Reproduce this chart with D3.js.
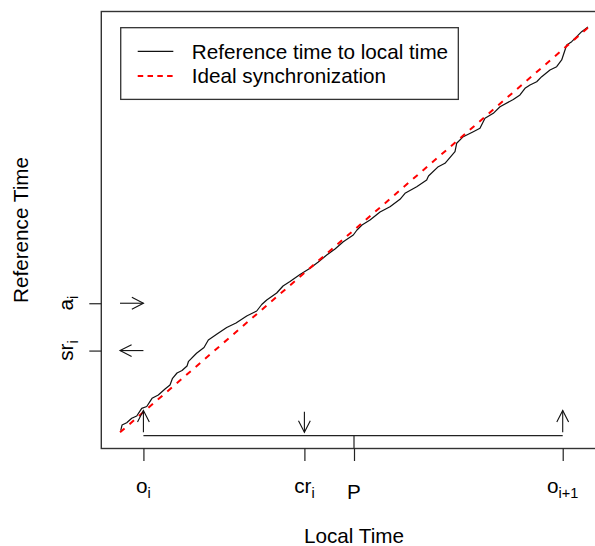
<!DOCTYPE html>
<html>
<head>
<meta charset="utf-8">
<script src="https://cdn.jsdelivr.net/npm/d3@7/dist/d3.min.js"></script>
<style>
  html, body { margin: 0; padding: 0; background: #fff; }
  svg { display: block; font-family: "Liberation Sans", Arial, sans-serif; }
</style>
</head>
<body>
<svg id="chart" width="595" height="546"></svg>
<script>
// ---- data (local time, reference time), units 0..100 ----
const localTime = [0.15,0.43,1.43,2.50,3.57,4.64,5.71,6.84,8.18,9.62,10.68,11.22,12.18,13.25,14.32,14.64,16.35,17.95,18.87,20.73,22.80,24.79,27.07,29.21,30.28,31.35,33.48,34.83,36.32,38.46,40.60,42.37,44.17,45.94,47.71,49.85,50.64,51.71,53.42,55.56,57.69,59.83,60.90,63.40,65.53,65.92,68.01,69.44,71.58,71.94,73.35,75.49,76.92,77.99,79.77,81.20,84.04,85.47,86.54,87.61,89.04,90.11,91.88,93.31,94.38,95.09,95.45,96.52,97.58,98.65,100.0];
const referenceTime = [0.44,1.80,2.37,3.46,4.03,5.93,6.38,8.40,9.22,10.70,11.69,13.35,14.66,15.27,16.39,17.55,19.53,20.96,22.81,24.30,25.90,27.01,28.74,29.98,31.59,32.70,34.43,36.16,37.27,39.00,40.53,42.09,43.82,45.30,47.11,48.76,50.00,51.24,52.47,54.45,55.76,57.59,59.07,60.70,62.36,63.35,65.65,66.49,69.35,71.43,73.06,74.30,75.14,77.61,78.84,80.47,82.25,83.37,85.02,85.84,86.65,87.89,89.55,90.36,92.02,94.49,95.72,96.54,97.78,99.01,100.2];
const idealX = [0, 100];
const idealY = [0, 100];

// x tick marks (local time) and labels [main, subscript]
const xTickValues = [5, 39.4, 50, 94.6];
const xTickLabels = [["o","i"], ["cr","i"], ["P",""], ["o","i+1"]];
// y tick marks (reference time) and labels
const yTickValues = [31.9, 20.2];
const yTickLabels = [["a","i"], ["sr","i"]];

const lineY = -0.84;            // horizontal interval line
const arrowLen = 5.4;           // vertical arrow length (reference-time units)
const leftArrowLen = 5;         // horizontal arrow length (local-time units)
const legendLabels = ["Reference time to local time", "Ideal synchronization"];
const xTitle = "Local Time";
const yTitle = "Reference Time";

// ---- drawing ----
const svg = d3.select("#chart");
const x = d3.scaleLinear().domain([-4, 104]).range([101.3, 606.7]);
const y = d3.scaleLinear().domain([-4, 104]).range([448.5, 11.5]);
const FS = 20.7, SUB = 14.5;

// black curve
const pts = localTime.map((d, i) => [d, referenceTime[i]]);
const line = d3.line().x(d => x(d[0])).y(d => y(d[1]));
svg.append("path").datum(pts).attr("d", line)
  .attr("fill", "none").attr("stroke", "#111").attr("stroke-width", 1.2)
  .attr("stroke-linejoin", "round");
// ideal dashed line
svg.append("path").datum(idealX.map((d, i) => [d, idealY[i]])).attr("d", line)
  .attr("fill", "none").attr("stroke", "#ff0000").attr("stroke-width", 2)
  .attr("stroke-dasharray", "6,6.5");

// arrows
function arrow(x0, y0, x1, y1) {
  const px0 = x(x0), py0 = y(y0), px1 = x(x1), py1 = y(y1);
  const ang = Math.atan2(py1 - py0, px1 - px0);
  const L = 13, a = 27 * Math.PI / 180;
  const g = svg.append("g").attr("stroke", "#111").attr("stroke-width", 1.1).attr("fill", "none");
  g.append("line").attr("x1", px0).attr("y1", py0).attr("x2", px1).attr("y2", py1);
  g.append("path").attr("d",
    `M${px1 - L * Math.cos(ang - a)},${py1 - L * Math.sin(ang - a)}L${px1},${py1}L${px1 - L * Math.cos(ang + a)},${py1 - L * Math.sin(ang + a)}`);
}
arrow(xTickValues[0], 0, xTickValues[0], arrowLen);
arrow(xTickValues[1], arrowLen - 0.3, xTickValues[1], 0);
arrow(xTickValues[3], 0, xTickValues[3], arrowLen);
arrow(0, yTickValues[0], leftArrowLen, yTickValues[0]);
arrow(leftArrowLen, yTickValues[1], 0, yTickValues[1]);

// horizontal interval line and P marker
svg.append("line").attr("x1", x(xTickValues[0])).attr("x2", x(xTickValues[3]))
  .attr("y1", y(lineY)).attr("y2", y(lineY)).attr("stroke", "#222").attr("stroke-width", 1.2);
svg.append("line").attr("x1", x(xTickValues[2])).attr("x2", x(xTickValues[2]))
  .attr("y1", y(lineY)).attr("y2", y(-4)).attr("stroke", "#222").attr("stroke-width", 1.2);

// plot box
svg.append("rect").attr("x", x(-4)).attr("y", y(104))
  .attr("width", x(104) - x(-4)).attr("height", y(-4) - y(104))
  .attr("fill", "none").attr("stroke", "#333").attr("stroke-width", 1.4);

// x axis ticks
const xAxis = d3.axisBottom(x).tickValues(xTickValues).tickSize(12.5).tickFormat("");
const gx = svg.append("g").attr("transform", `translate(0,${y(-4)})`).call(xAxis);
gx.select(".domain").remove();
gx.selectAll("line").attr("stroke", "#222").attr("stroke-width", 1.2);
const yAxis = d3.axisLeft(y).tickValues(yTickValues).tickSize(12).tickFormat("");
const gy = svg.append("g").attr("transform", `translate(${x(-4)},0)`).call(yAxis);
gy.select(".domain").remove();
gy.selectAll("line").attr("stroke", "#222").attr("stroke-width", 1.2);

// x tick labels
xTickLabels.forEach((lab, i) => {
  const t = svg.append("text").attr("x", x(xTickValues[i]))
    .attr("y", lab[1] === "" ? 499 : 493.3).attr("text-anchor", "middle")
    .attr("font-size", FS).attr("fill", "#000");
  t.append("tspan").text(lab[0]);
  if (lab[1]) t.append("tspan").attr("font-size", SUB).attr("dy", 4.4).text(lab[1]);
});
// y tick labels (rotated)
yTickLabels.forEach((lab, i) => {
  const t = svg.append("text")
    .attr("transform", `translate(73.3,${y(yTickValues[i])}) rotate(-90)`)
    .attr("text-anchor", "middle").attr("font-size", FS).attr("fill", "#000");
  t.append("tspan").text(lab[0]);
  t.append("tspan").attr("font-size", SUB).attr("dy", 4.4).text(lab[1]);
});

// axis titles
svg.append("text").attr("x", (x(-4) + x(104)) / 2).attr("y", 543)
  .attr("text-anchor", "middle").attr("font-size", FS).text(xTitle);
svg.append("text").attr("transform", `translate(28.3,${(y(-4) + y(104)) / 2}) rotate(-90)`)
  .attr("text-anchor", "middle").attr("font-size", FS).text(yTitle);

// legend
const lg = svg.append("g").attr("transform", `translate(${x(0) + 0.7},${y(100)})`);
lg.append("rect").attr("width", 337.6).attr("height", 71.7)
  .attr("fill", "#fff").attr("stroke", "#333").attr("stroke-width", 1.3);
const legStyles = [{c: "#111", w: 1.2, d: null}, {c: "#ff0000", w: 2, d: "5.5,4.3"}];
[23.6, 48.3].forEach((ly, i) => {
  lg.append("line").attr("x1", 17).attr("x2", 52.6).attr("y1", ly).attr("y2", ly)
    .attr("stroke", legStyles[i].c).attr("stroke-width", legStyles[i].w)
    .attr("stroke-dasharray", legStyles[i].d);
  lg.append("text").attr("x", 71).attr("y", ly + 7.4).attr("font-size", FS).text(legendLabels[i]);
});
</script>
</body>
</html>
